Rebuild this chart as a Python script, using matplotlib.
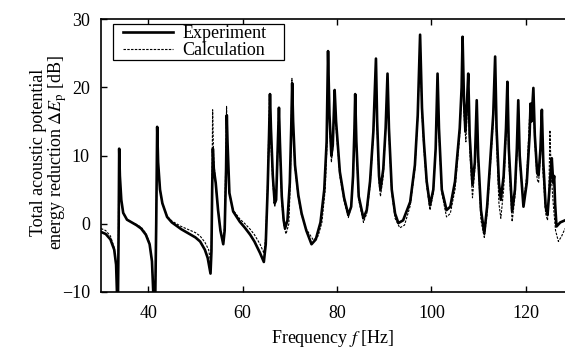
import matplotlib
matplotlib.use("Agg")
import matplotlib.pyplot as plt
from matplotlib.patches import Rectangle

plt.rcParams['font.family'] = ['Liberation Serif', 'DejaVu Serif']
plt.rcParams['mathtext.fontset'] = 'stix'
plt.rcParams['font.size'] = 13

# Experiment: frequency [Hz] and energy reduction [dB]
exp_f = [30.0, 31.0, 32.0, 32.8, 33.2, 33.4, 33.6, 33.75, 33.85, 34.0, 34.3, 34.7, 35.5, 36.5, 37.5,
         38.5, 39.5, 40.3, 40.8, 41.1, 41.5, 41.7, 41.9, 42.1, 42.5, 43.0, 44.0, 45.0, 46.0, 47.0,
         48.0, 49.0, 50.0, 51.0, 52.0, 52.6, 53.0, 53.2, 53.4, 53.55, 53.7, 53.9, 54.3, 54.8, 55.3,
         55.9, 56.2, 56.5, 56.65, 56.8, 57.2, 58.0, 59.4, 60.5, 61.6, 62.5, 63.7, 64.5, 64.9, 65.3,
         65.6, 65.8, 66.0, 66.4, 66.8, 67.1, 67.4, 67.7, 67.9, 68.3, 68.7, 69.0, 69.5, 70.0, 70.3,
         70.5, 70.7, 71.1, 71.8, 72.5, 73.5, 74.6, 75.5, 76.5, 77.3, 77.8, 78.1, 78.4, 78.8, 79.1,
         79.5, 79.8, 80.6, 81.5, 82.4, 83.0, 83.4, 83.7, 83.85, 84.1, 84.6, 85.6, 86.3, 87.0,
         87.7, 88.25, 88.5, 88.9, 89.2, 89.8, 90.3, 90.7, 91.0, 91.6, 92.3, 93.0, 94.0, 95.5, 96.5,
         97.1, 97.6, 98.0, 98.4, 99.0, 99.7, 100.4, 100.9, 101.3, 101.6, 102.2, 103.2, 104.0,
         105.0, 106.0, 106.4, 106.6, 106.9, 107.2, 107.55, 107.8, 108.1, 108.7, 109.2, 109.6, 109.9,
         110.5, 111.2, 111.8, 112.4, 113.1, 113.5, 113.8, 114.3, 114.7, 115.3, 115.8, 116.1, 116.4,
         117.1, 117.7, 118.1, 118.4, 118.7, 119.5, 120.2, 120.8, 121.0, 121.2, 121.6, 121.9, 122.4,
         122.7, 123.1, 123.4, 123.7, 124.2, 124.6, 125.0, 125.3, 125.5, 125.8, 126.0, 126.2, 126.5,
         127.3, 128.3]
exp_db = [-1.2, -1.5, -2.3, -3.8, -6.0, -10.5, -10.5, 0.0, 11.0, 7.0, 3.5, 1.6, 0.6, 0.2, -0.2,
          -0.7, -1.6, -3.0, -5.5, -10.5, -10.5, 0.0, 14.2, 9.0, 5.0, 3.0, 1.0, 0.2, -0.3, -0.8,
          -1.2, -1.6, -2.0, -2.6, -3.8, -5.0, -6.5, -7.3, -4.0, 5.0, 11.0, 8.0, 6.0, 2.0, -1.0,
          -3.0, -1.0, 8.0, 15.9, 12.0, 4.5, 1.8, 0.3, -0.6, -1.6, -2.6, -4.3, -5.6, -3.0, 5.0,
          13.0, 19.0, 14.0, 7.0, 3.0, 3.5, 10.0, 17.0, 12.0, 4.0, 0.5, -0.7, 0.5, 6.0, 14.0,
          20.6, 15.0, 8.6, 4.2, 1.5, -1.0, -3.0, -2.3, 0.2, 5.0, 12.0, 25.3, 16.0, 10.0, 11.5,
          19.6, 15.0, 7.6, 3.8, 1.3, 2.5, 7.0, 14.0, 19.0, 12.0, 4.0, 0.8, 2.0, 6.2,
          13.5, 24.2, 15.0, 7.0, 5.0, 8.0, 14.0, 22.0, 14.0, 5.0, 1.5, 0.1, 0.5, 3.2, 8.6,
          15.9, 27.7, 17.0, 12.0, 6.2, 2.7, 5.0, 11.0, 22.0, 14.0, 5.0, 2.0, 2.5,
          6.2, 14.0, 20.0, 27.4, 18.0, 13.5, 18.0, 22.0, 13.0, 5.7, 9.0, 18.1, 10.0,
          2.0, -1.4, 2.5, 8.6, 16.0, 24.5, 14.0, 6.0, 3.5, 7.0, 14.0, 20.8, 11.0,
          1.8, 5.0, 11.0, 18.1, 10.0, 2.5, 6.0, 13.0, 17.6, 15.0, 19.9, 13.0, 7.5,
          7.1, 11.0, 16.7, 9.0, 2.5, 1.3, 5.0, 8.0, 9.6, 6.0, 7.0, 3.0, -0.4,
          0.2, 0.5]

# Calculation
calc_f = [30.0, 31.0, 32.0, 32.8, 33.3, 33.5, 33.65, 33.7, 33.75, 34.0, 34.3, 34.7, 35.5, 36.5, 37.5,
          38.5, 39.5, 40.3, 40.8, 41.1, 41.5, 41.7, 41.9, 42.1, 42.5, 43.0, 44.0, 45.0, 46.0, 47.0,
          48.0, 49.0, 50.0, 51.0, 52.0, 52.8, 53.2, 53.4, 53.5, 53.65, 53.85, 54.2, 54.8, 55.3, 55.9,
          56.2, 56.45, 56.6, 56.8, 57.2, 58.0, 59.4, 60.5, 61.6, 62.5, 63.7, 64.5, 64.9, 65.3, 65.7,
          65.9, 66.4, 66.8, 67.1, 67.4, 67.65, 67.9, 68.3, 68.8, 69.2, 69.8, 70.1, 70.3, 70.45, 70.7,
          71.1, 71.8, 72.5, 73.5, 75.0, 76.0, 76.8, 77.5, 77.9, 78.1, 78.4, 78.8, 79.1, 79.45, 79.8,
          80.6, 81.5, 82.4, 83.0, 83.4, 83.7, 83.8, 84.1, 84.6, 85.6, 86.3, 87.0, 87.7, 88.25,
          88.5, 88.9, 89.2, 89.8, 90.3, 90.7, 91.0, 91.6, 92.3, 93.3, 94.3, 95.5, 96.5, 97.1,
          97.6, 98.0, 98.4, 99.0, 99.7, 100.4, 100.9, 101.3, 101.6, 102.2, 103.2, 104.0, 105.0, 106.0,
          106.4, 106.6, 106.9, 107.3, 107.6, 107.8, 108.1, 108.7, 109.2, 109.6, 109.9, 110.5, 111.2,
          111.8, 112.4, 113.1, 113.5, 113.8, 114.3, 114.7, 115.3, 115.8, 116.1, 116.4, 117.1, 117.7,
          118.1, 118.4, 118.7, 119.5, 120.2, 120.8, 121.0, 121.6, 121.9, 122.4, 122.7, 123.1, 123.3,
          123.6, 124.2, 124.6, 124.9, 125.1, 125.4, 125.8, 126.3, 126.9, 127.6, 128.3]
calc_db = [-0.7, -1.0, -1.8, -3.5, -7.0, -10.5, -10.5, 0.0, 10.8, 6.5, 3.3, 1.6, 0.6, 0.2, -0.1,
           -0.5, -1.4, -2.8, -5.5, -10.5, -10.5, 0.0, 14.2, 9.0, 5.0, 3.0, 1.1, 0.4, 0.0, -0.4,
           -0.7, -1.0, -1.3, -1.8, -2.7, -3.8, -5.5, -3.0, 5.0, 16.7, 10.0, 6.5, 2.0, -1.0, -2.8,
           0.0, 10.0, 17.2, 11.0, 4.5, 2.0, 0.7, 0.0, -0.8, -1.6, -3.0, -4.3, -2.0, 6.0, 18.8,
           13.0, 6.0, 2.5, 3.5, 11.0, 17.0, 11.0, 3.0, -0.5, -1.5, 0.0, 6.0, 14.0, 21.3, 14.0,
           8.0, 3.8, 1.2, -0.8, -2.4, -1.8, 0.2, 5.0, 12.0, 25.0, 15.0, 9.0, 11.0, 19.0, 14.0,
           7.0, 3.3, 0.9, 2.5, 7.0, 14.0, 18.6, 11.0, 3.5, 0.2, 1.5, 5.5, 13.0, 24.0,
           14.0, 6.0, 4.0, 7.0, 14.0, 21.5, 13.0, 4.5, 0.8, -0.6, -0.2, 2.6, 8.0, 15.5,
           27.5, 16.0, 11.0, 5.5, 2.0, 4.5, 11.0, 21.5, 13.0, 4.5, 1.0, 1.5, 5.0, 13.0,
           19.0, 27.0, 16.0, 12.0, 17.0, 21.5, 11.0, 3.8, 8.0, 17.5, 9.0, 0.5, -2.0,
           1.5, 7.5, 15.0, 24.0, 12.0, 3.0, 0.8, 5.0, 13.0, 20.0, 9.0, 0.3, 4.0,
           10.0, 17.5, 9.0, 3.0, 7.0, 15.8, 15.0, 18.5, 12.0, 6.5, 6.0, 10.0, 16.5,
           8.0, 1.5, 0.5, 5.0, 13.7, 7.0, 3.0, -1.0, -2.6, -1.8, -0.7]

x_ticks = [40, 60, 80, 100, 120]
y_ticks = [-10, 0, 10, 20, 30]

W, H = 565, 350
ax_l, ax_r, ax_t, ax_b = 101, 565, 19, 292
aw, ah = ax_r - ax_l, ax_b - ax_t

fig = plt.figure(figsize=(W / 100, H / 100), dpi=100)
ax = fig.add_axes([ax_l / W, 1 - ax_b / H, aw / W, ah / H])

ax.plot(exp_f, exp_db, color='black', lw=1.9, label='Experiment', solid_joinstyle='round')
ax.plot(calc_f, calc_db, color='black', lw=0.8, ls=(0, (2.2, 1.2)), label='Calculation')

ax.set_xlim(30, 128.3)
ax.set_ylim(-10, 30)
ax.set_xticks(x_ticks)
ax.set_yticks(y_ticks)
ax.set_yticklabels(['\u221210' if t < 0 else str(t) for t in y_ticks])
ax.tick_params(direction='in', length=4, width=1.0, top=True, right=False, labelsize=13)
ax.tick_params(axis='x', pad=9)
ax.tick_params(axis='y', pad=8)
for s in ['left', 'bottom', 'top']:
    ax.spines[s].set_linewidth(1.2)
ax.spines['right'].set_visible(False)

ax.set_xlabel(r'Frequency $f$ [Hz]', fontsize=13, labelpad=5)
ax.set_ylabel('Total acoustic potential\n' + r'energy reduction $\Delta E_\mathrm{p}$ [dB]',
              fontsize=13, linespacing=0.95)
ax.yaxis.set_label_coords((69 - ax_l) / aw, 0.51)

# legend frame drawn as a box, legend entries without frame
bx0, bx1, by0, by1 = 112.5, 284, 24, 60
ax.add_patch(Rectangle(((bx0 - ax_l) / aw, (ax_b - by1) / ah), (bx1 - bx0) / aw, (by1 - by0) / ah,
                       transform=ax.transAxes, facecolor='white', edgecolor='black', lw=0.9,
                       zorder=4, clip_on=False))
leg = ax.legend(loc='upper left', bbox_to_anchor=((123 - ax_l) / aw, 1 - (25 - ax_t) / ah),
                frameon=False, borderpad=0, handlelength=2.78, handletextpad=0.5,
                labelspacing=0.0, borderaxespad=0, fontsize=13)
leg.set_zorder(5)

fig.savefig('out.png', dpi=100)
